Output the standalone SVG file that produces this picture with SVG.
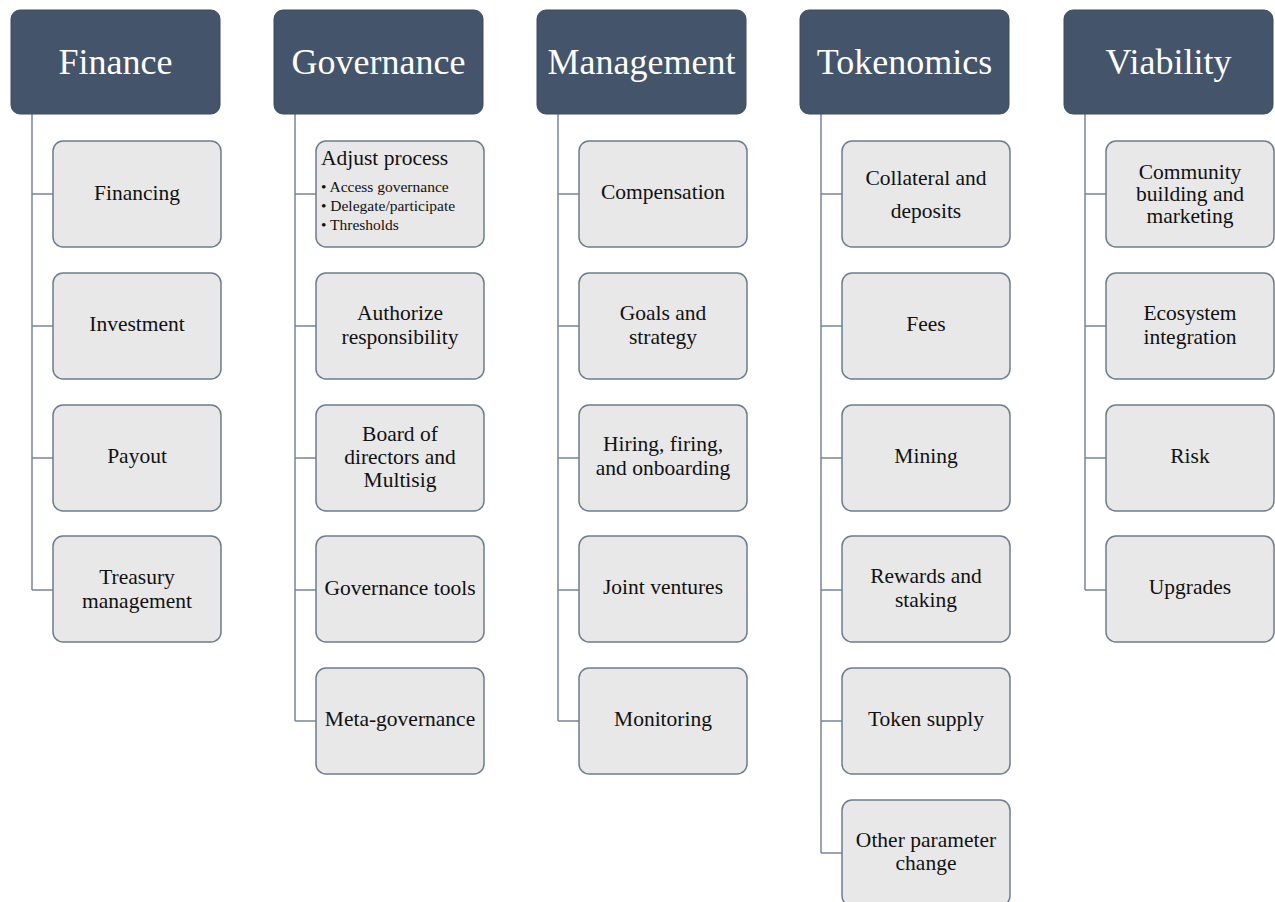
<svg xmlns="http://www.w3.org/2000/svg" width="1275" height="902" viewBox="0 0 1275 902">
<style>
.hdr{fill:#44546a;stroke:#3d4b5f;stroke-width:1}
.box{fill:#e8e8e8;stroke:#6e7c90;stroke-width:1.5}
text{font-family:'Liberation Serif','Times New Roman',Tinos,'DejaVu Serif','Noto Serif',serif}
.ht{font-size:36px;fill:#ffffff;text-anchor:middle}
.ct{font-size:21.5px;fill:#111111;text-anchor:middle}
.at{font-size:21.5px;fill:#111111}
.st{font-size:15.5px;fill:#111111}
.ln{fill:none;stroke:#7a8599;stroke-width:1.5}
</style>
<rect width="1275" height="902" fill="#ffffff"/>
<g id="connectors">
<path class="ln" d="M32,114V590M32,194H53M32,326H53M32,458H53M32,590H53"/>
<path class="ln" d="M295,114V721M295,194H316M295,326H316M295,458H316M295,590H316M295,721H316"/>
<path class="ln" d="M558,114V721M558,194H579M558,326H579M558,458H579M558,590H579M558,721H579"/>
<path class="ln" d="M821,114V853M821,194H842M821,326H842M821,458H842M821,590H842M821,721H842M821,853H842"/>
<path class="ln" d="M1085,114V590M1085,194H1106M1085,326H1106M1085,458H1106M1085,590H1106"/>
</g>
<g id="finance"><rect class="hdr" x="11" y="10" width="209" height="104" rx="9"/><text class="ht" x="115.5" y="74">Finance</text></g>
<g id="governance"><rect class="hdr" x="274" y="10" width="209" height="104" rx="9"/><text class="ht" x="378.5" y="74">Governance</text></g>
<g id="management"><rect class="hdr" x="537" y="10" width="209" height="104" rx="9"/><text class="ht" x="641.5" y="74">Management</text></g>
<g id="tokenomics"><rect class="hdr" x="800" y="10" width="209" height="104" rx="9"/><text class="ht" x="904.5" y="74">Tokenomics</text></g>
<g id="viability"><rect class="hdr" x="1064" y="10" width="209" height="104" rx="9"/><text class="ht" x="1168.5" y="74">Viability</text></g>

<g id="financing"><rect class="box" x="53" y="141" width="168" height="106" rx="10"/><text class="ct" x="137" y="199.5">Financing</text></g>
<g id="investment"><rect class="box" x="53" y="273" width="168" height="106" rx="10"/><text class="ct" x="137" y="330.5">Investment</text></g>
<g id="payout"><rect class="box" x="53" y="405" width="168" height="106" rx="10"/><text class="ct" x="137" y="462.5">Payout</text></g>
<g id="treasury"><rect class="box" x="53" y="536" width="168" height="106" rx="10"/><text class="ct" x="137" y="583.5">Treasury</text><text class="ct" x="137" y="607.5">management</text></g>

<g id="adjust-process"><rect class="box" x="316" y="141" width="168" height="106" rx="10"/>
<text class="at" x="321" y="164.5">Adjust process</text>
<text class="st" x="321" y="191.5">• Access governance</text>
<text class="st" x="321" y="210.5">• Delegate/participate</text>
<text class="st" x="321" y="229.5">• Thresholds</text></g>
<g id="authorize"><rect class="box" x="316" y="273" width="168" height="106" rx="10"/><text class="ct" x="400" y="319.5">Authorize</text><text class="ct" x="400" y="343.5">responsibility</text></g>
<g id="board"><rect class="box" x="316" y="405" width="168" height="106" rx="10"/><text class="ct" x="400" y="440.5">Board of</text><text class="ct" x="400" y="463.5">directors and</text><text class="ct" x="400" y="487">Multisig</text></g>
<g id="gov-tools"><rect class="box" x="316" y="536" width="168" height="106" rx="10"/><text class="ct" x="400" y="594.5">Governance tools</text></g>
<g id="meta-gov"><rect class="box" x="316" y="668" width="168" height="106" rx="10"/><text class="ct" x="400" y="725.5">Meta-governance</text></g>

<g id="compensation"><rect class="box" x="579" y="141" width="168" height="106" rx="10"/><text class="ct" x="663" y="198.5">Compensation</text></g>
<g id="goals"><rect class="box" x="579" y="273" width="168" height="106" rx="10"/><text class="ct" x="663" y="319.5">Goals and</text><text class="ct" x="663" y="343.5">strategy</text></g>
<g id="hiring"><rect class="box" x="579" y="405" width="168" height="106" rx="10"/><text class="ct" x="663" y="450.5">Hiring, firing,</text><text class="ct" x="663" y="474.5">and onboarding</text></g>
<g id="joint"><rect class="box" x="579" y="536" width="168" height="106" rx="10"/><text class="ct" x="663" y="594">Joint ventures</text></g>
<g id="monitoring"><rect class="box" x="579" y="668" width="168" height="106" rx="10"/><text class="ct" x="663" y="725.5">Monitoring</text></g>

<g id="collateral"><rect class="box" x="842" y="141" width="168" height="106" rx="10"/><text class="ct" x="926" y="184.5">Collateral and</text><text class="ct" x="926" y="217.5">deposits</text></g>
<g id="fees"><rect class="box" x="842" y="273" width="168" height="106" rx="10"/><text class="ct" x="926" y="330.5">Fees</text></g>
<g id="mining"><rect class="box" x="842" y="405" width="168" height="106" rx="10"/><text class="ct" x="926" y="462.5">Mining</text></g>
<g id="rewards"><rect class="box" x="842" y="536" width="168" height="106" rx="10"/><text class="ct" x="926" y="582.5">Rewards and</text><text class="ct" x="926" y="606.5">staking</text></g>
<g id="token-supply"><rect class="box" x="842" y="668" width="168" height="106" rx="10"/><text class="ct" x="926" y="725.5">Token supply</text></g>
<g id="other-param"><rect class="box" x="842" y="800" width="168" height="106" rx="10"/><text class="ct" x="926" y="846.5">Other parameter</text><text class="ct" x="926" y="869.5">change</text></g>

<g id="community"><rect class="box" x="1106" y="141" width="168" height="106" rx="10"/><text class="ct" x="1190" y="178.5">Community</text><text class="ct" x="1190" y="200.5">building and</text><text class="ct" x="1190" y="222.5">marketing</text></g>
<g id="ecosystem"><rect class="box" x="1106" y="273" width="168" height="106" rx="10"/><text class="ct" x="1190" y="319.5">Ecosystem</text><text class="ct" x="1190" y="343.5">integration</text></g>
<g id="risk"><rect class="box" x="1106" y="405" width="168" height="106" rx="10"/><text class="ct" x="1190" y="462.5">Risk</text></g>
<g id="upgrades"><rect class="box" x="1106" y="536" width="168" height="106" rx="10"/><text class="ct" x="1190" y="594">Upgrades</text></g>
</svg>
